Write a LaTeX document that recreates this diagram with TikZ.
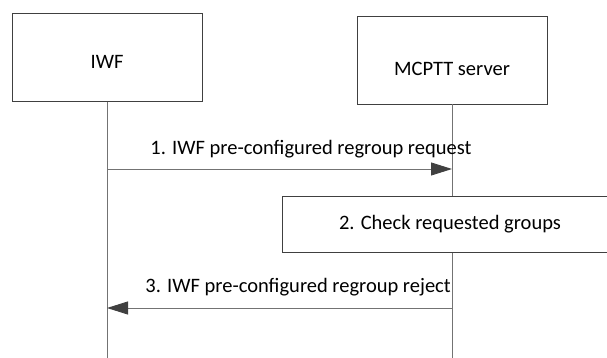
\documentclass[tikz,border=0pt]{standalone}
\usepackage{fontspec}
\setmainfont{Carlito}
\usetikzlibrary{positioning,arrows.meta}

\begin{document}
\begin{tikzpicture}[
  x=1pt, y=1pt,
  entity/.style={draw=black!75, rectangle, minimum width=190pt, minimum height=88pt, inner sep=0pt, font=\fontsize{20.5}{24}\selectfont},
  action/.style={draw=black!75, fill=white, rectangle, minimum width=336pt, minimum height=56pt, inner sep=0pt, font=\fontsize{20.5}{24}\selectfont},
  lifeline/.style={draw=black!55, line width=0.9pt},
  msg/.style={draw=black!55, line width=0.9pt, -{Triangle[length=21pt, width=13pt, fill=black!75, color=black!75]}},
  lbl/.style={font=\fontsize{20.5}{24}\selectfont, inner sep=0pt, anchor=base west}
]
\useasboundingbox (0,0) rectangle (607,358);
\node[entity] (iwf) at (107,300.5) {\raisebox{-11pt}[0pt][0pt]{IWF}};
\node[entity] (srv) at (452,298) {\raisebox{-15.5pt}[0pt][0pt]{MCPTT server}};
\coordinate (iwfend) at (iwf.south |- 0,0);
\coordinate (srvend) at (srv.south |- 0,0);
\coordinate (iwf1) at (iwf.south |- 0,189);
\coordinate (srv1) at (srv.south |- 0,189);
\coordinate (iwf3) at (iwf.south |- 0,50);
\coordinate (srv3) at (srv.south |- 0,50);
\draw[lifeline] (iwf) -- (iwfend);
\draw[lifeline] (srv) -- (srvend);
\node[action] (check) at (450,134) {2. Check requested groups};
\draw[msg] (iwf1) -- (srv1) node[lbl, pos=0, xshift=43pt, yshift=14pt] {1. IWF pre-configured regroup request};
\draw[msg] (srv3) -- (iwf3) node[lbl, pos=1, xshift=38pt, yshift=15pt] {3. IWF pre-configured regroup reject};
\end{tikzpicture}
\end{document}
